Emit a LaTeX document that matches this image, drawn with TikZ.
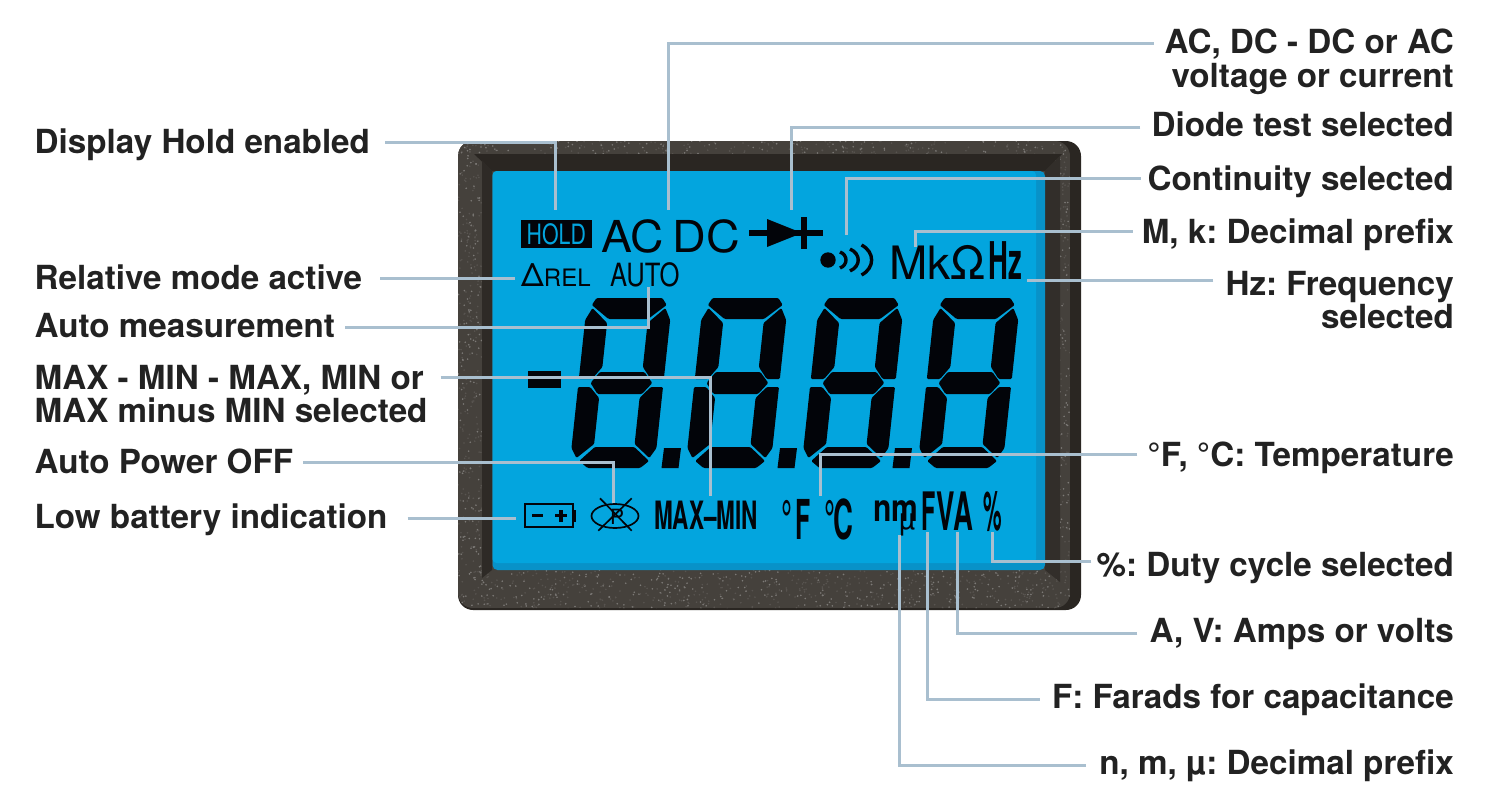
\documentclass[tikz,border=0pt]{standalone}
\usepackage{fontspec}
\setmainfont{TeX Gyre Heros}
\frenchspacing
\newcommand{\fs}[1]{\fontsize{#1}{#1}\selectfont}
\definecolor{frame}{HTML}{45413C}
\definecolor{framedark}{HTML}{2A2622}
\definecolor{lcd}{HTML}{03A5DE}
\definecolor{lcdedge}{HTML}{0892C8}
\definecolor{lcdink}{HTML}{020409}
\definecolor{leadercol}{HTML}{A9BFCF}
\definecolor{labelcol}{HTML}{222222}
\tikzset{
  leader/.style={draw=leadercol, line width=3pt},
  lbl/.style={font=\fs{33.2}\bfseries, text=labelcol, inner sep=0pt, text height=24pt, text depth=0pt},
  lblm/.style={font=\fontsize{33.2}{33.5}\selectfont\bfseries, text=labelcol, inner sep=0pt},
  lcdtext/.style={text=lcdink, inner sep=0pt, anchor=base west},
  seg/.style={fill=lcdink, rounded corners=1.2pt},
}
% one seven-segment digit, #1,#2 = top left corner
\newcommand{\lcddigit}[2]{%
  \begin{scope}[shift={(#1,#2)}, xslant=0.107, xscale=1.012]
    \fill[seg] (9,0) -- (74,0) -- (79,7) -- (62,21) -- (23,21) -- (5,7) -- cycle;
    \fill[seg] (0,81) -- (13,81) -- (22,69) -- (22,25) -- (6,10) -- (0,22) -- cycle;
    \fill[seg] (84,81) -- (71,81) -- (62,69) -- (62,25) -- (78,10) -- (84,22) -- cycle;
    \fill[seg] (12,85) -- (20,74) -- (64,74) -- (73,85) -- (64,96) -- (20,96) -- cycle;
    \fill[seg] (0,89) -- (12,89) -- (22,100) -- (22,146) -- (6,160) -- (0,150) -- cycle;
    \fill[seg] (84,89) -- (72,89) -- (62,100) -- (62,146) -- (78,160) -- (84,150) -- cycle;
    \fill[seg] (9,163) -- (23,149) -- (62,149) -- (78,163) -- (70,170) -- (18,170) -- cycle;
  \end{scope}}
\begin{document}
\begin{tikzpicture}[x=1pt, y=-1pt]
    \useasboundingbox (0,0) rectangle (1499,803);

    % Housing
    \fill[framedark, rounded corners=15pt] (458,141) rectangle (1081,610);
    \begin{scope}
        \clip[rounded corners=15pt] (458,141) rectangle (1070,608);
        \fill[frame] (458,141) rectangle (1070,608);
        \pgfmathsetseed{11}
        \foreach \xa/\ya/\dx/\dy/\n in {458/141/612/14/260, 458/155/24/420/320, 458/570/612/40/760, 1046/155/24/420/320}{
            \foreach \i in {1,...,\n}{
                \pgfmathsetmacro{\px}{\xa+\dx*rnd}
                \pgfmathsetmacro{\py}{\ya+\dy*rnd}
                \pgfmathsetmacro{\pk}{rnd<0.4 ? 30 : 10}
                \fill[white!\pk!frame] (\px,\py) circle (0.9);
            }
        }
    \end{scope}
    % Recess round the glass
    \fill[framedark] (474,154) -- (1062,154) -- (1045,171) -- (492,171) -- cycle;
    \fill[framedark!85!frame] (482,160) -- (492,171) -- (492,570) -- (482,578) -- cycle;
    \fill[framedark!70!frame] (1045,171) -- (1060,156) -- (1060,582) -- (1045,570) -- cycle;

    % Glass
    \fill[lcdedge, rounded corners=5pt] (492.5,171) rectangle (1045,570);
    \fill[lcd, rounded corners=4pt] (492.5,171) rectangle (1036,563);

    % Digits and decimal points
    \foreach \dgt in {587.5,703.5,819.5,935.5}{
        \lcddigit{\dgt}{298}
    }
    \foreach \px in {664,780,895}{
        \fill[lcdink] (\px,448) -- (\px+17,448) -- (\px+14.5,468) -- (\px-2.5,468) -- cycle;
    }
    \fill[lcdink] (528,371) rectangle (561,388);

    % Top row of symbols
    \node[fill=lcdink, text=lcd, inner sep=0pt, minimum width=71pt, minimum height=28pt, font=\fs{28}] (holdBox) at (556.3,234) {\scalebox{.76}[1]{HOLD}};
    \node[lcdtext, font=\fs{44}] (acSym) at (601.5,252) {\scalebox{1.05}[1]{AC}};
    \node[lcdtext, font=\fs{44}] (dcSym) at (672.5,252) {\scalebox{1.06}[1]{DC}};
    \node[lcdtext, font=\fs{24}] (relSym) at (521,286.7) {{\fs{32}Δ}REL};
    \node[lcdtext, font=\fs{32}] (autoSym) at (610,286.7) {\scalebox{.8}[1]{AUTO}};
    \node[lcdtext, font=\fs{46}] (mkSym) at (889,279.5) {MkΩ};
    \node[lcdtext, font=\fs{52}\bfseries] (hzSym) at (988,279.5) {\scalebox{.53}[1]{Hz}};

    % Diode
    \draw[lcdink, line width=6.5pt] (749,233) -- (823,233);
    \fill[lcdink] (767,219) -- (802,233) -- (767,247) -- cycle;
    \fill[lcdink] (801,217) rectangle (807,249);

    % Continuity
    \fill[lcdink] (828,260) circle (7.7);
    \draw[lcdink, line width=3.4pt] (840,252) .. controls (848,255) and (848,265) .. (840,268);
    \draw[lcdink, line width=3.4pt] (850,249) .. controls (861,254) and (861,266) .. (850,271);
    \draw[lcdink, line width=3.4pt] (861.5,245) .. controls (875,252) and (875,268) .. (861.5,275);

    % Battery
    \draw[lcdink, line width=2pt] (525,504) rectangle (572.5,527.3);
    \fill[lcdink] (572.5,510) rectangle (576,521.7);
    \fill[lcdink] (531.5,514) rectangle (542.5,517.4);
    \fill[lcdink] (555,514) rectangle (567,517.4);
    \fill[lcdink] (559.3,510) rectangle (562.7,521.7);

    % Auto power off
    \draw[lcdink, line width=1.7pt] (615,516) ellipse (23.5 and 12);
    \draw[lcdink, line width=1.7pt] (600,498.3) -- (631.7,530.7);
    \draw[lcdink, line width=1.7pt] (631.7,498.3) -- (598.3,530.7);
    \node[lcdtext, font=\fs{21}] (offSym) at (610,524) {P};

    % Bottom row of symbols
    \node[lcdtext, font=\fs{39}\bfseries] (maxSym) at (654,529.3) {\scalebox{.578}[1]{MAX–MIN}};
    \node[lcdtext, font=\fs{55}\bfseries] (fahrSym) at (781,539.3) {\scalebox{.5}[1]{°}\hspace{3pt}\scalebox{.45}[1]{F}};
    \node[lcdtext, font=\fs{55}\bfseries] (celsSym) at (824,539.3) {\scalebox{.5}[1]{°}\hspace{-2pt}\scalebox{.5}[1]{C}};
    \node[lcdtext, font=\fs{38}\bfseries] (nmSym) at (873,521) {\scalebox{.79}[1]{nm}};
    \node[lcdtext, font=\fs{30}] (muSym) at (899,529) {\scalebox{.95}[1]{µ}};
    \node[lcdtext, font=\fs{53}\bfseries] (fSym) at (921,530) {\scalebox{.44}[1]{F}};
    \node[lcdtext, font=\fs{53}\bfseries] (vaSym) at (936.5,530) {\scalebox{.52}[1]{VA}};
    \node[lcdtext, font=\fs{55}\bfseries] (pctSym) at (983,530) {\scalebox{.38}[1]{\%}};

    % Labels on the left
    \node[lbl, anchor=west] (lblHold) at (34.5,141) {Display Hold enabled};
    \node[lbl, anchor=west] (lblRel) at (34.5,277) {Relative mode active};
    \node[lbl, anchor=west] (lblAuto) at (34.5,325) {Auto measurement};
    \node[lblm, anchor=north west, align=left] (lblMax) at (34.5,365) {MAX - MIN - MAX, MIN or\\MAX minus MIN selected};
    \node[lbl, anchor=west] (lblOff) at (34.5,461) {Auto Power OFF};
    \node[lbl, anchor=west] (lblBat) at (34.5,516) {Low battery indication};

    % Labels on the right
    \node[lblm, anchor=north east, align=right] (lblAc) at (1454,29) {AC, DC - DC or AC\\voltage or current};
    \node[lbl, anchor=east] (lblDiode) at (1454,124) {Diode test selected};
    \node[lbl, anchor=east] (lblCont) at (1454,178) {Continuity selected};
    \node[lbl, anchor=east] (lblMk) at (1454,231) {M, k: Decimal prefix};
    \node[lblm, anchor=north east, align=right] (lblHz) at (1454,271) {Hz: Frequency\\selected};
    \node[lbl, anchor=east] (lblTemp) at (1454,454) {°F, °C: Temperature};
    \node[lbl, anchor=east] (lblPct) at (1454,564) {\%: Duty cycle selected};
    \node[lbl, anchor=east] (lblAmp) at (1454,630) {A, V: Amps or volts};
    \node[lbl, anchor=east] (lblFar) at (1454,696) {F: Farads for capacitance};
    \node[lbl, anchor=east] (lblPre) at (1454,762) {n, m, µ: Decimal prefix};

    % Ends of the leaders
    \coordinate (tipHold) at (555,210);
    \coordinate (tipAc) at (668.5,210);
    \coordinate (tipDiode) at (791.5,210);
    \coordinate (tipCont) at (846,235);
    \coordinate (tipMk) at (915.5,247);
    \coordinate (tipHz) at (1026.5,280);
    \coordinate (tipRel) at (515,278);
    \coordinate (tipAuto) at (648.5,287);
    \coordinate (tipMax) at (710,496);
    \coordinate (tipOff) at (613,503);
    \coordinate (tipBat) at (515.5,518);
    \coordinate (tipTemp) at (820,496);
    \coordinate (tipPct) at (992,532);
    \coordinate (tipAmp) at (957,532);
    \coordinate (tipFar) at (927,532);
    \coordinate (tipPre) at (899,535);

    % Leaders
    \draw[leader, shorten <=15pt] ([yshift=-1pt]lblHold.east) -| (tipHold);
    \draw[leader, shorten <=18pt] ([yshift=-1pt]lblRel.east) -- (tipRel);
    \draw[leader, shorten <=10pt] ([yshift=-2pt]lblAuto.east) -| (tipAuto);
    \draw[leader] ([xshift=13pt, yshift=-12pt]lblMax.north east) -| (tipMax);
    \draw[leader, shorten <=10pt] ([yshift=-1pt]lblOff.east) -| (tipOff);
    \draw[leader, shorten <=20pt] ([yshift=-2pt]lblBat.east) -- (tipBat);
    \draw[leader] ([xshift=-11pt, yshift=-14pt]lblAc.north west) -| (tipAc);
    \draw[leader, shorten <=11pt] ([yshift=-3pt]lblDiode.west) -| (tipDiode);
    \draw[leader, shorten <=7pt] (lblCont.west) -| (tipCont);
    \draw[leader, shorten <=9pt] (lblMk.west) -| (tipMk);
    \draw[leader] ([xshift=-12pt, yshift=-9pt]lblHz.north west) -- (tipHz);
    \draw[leader, shorten <=10pt] (lblTemp.west) -| (tipTemp);
    \draw[leader, shorten <=5pt] ([yshift=3pt]lblPct.west) -| (tipPct);
    \draw[leader, shorten <=12pt] ([yshift=-3pt]lblAmp.west) -| (tipAmp);
    \draw[leader, shorten <=12pt] ([yshift=-3pt]lblFar.west) -| (tipFar);
    \draw[leader, shorten <=13pt] ([yshift=-3pt]lblPre.west) -| (tipPre);

\end{tikzpicture}
\end{document}
